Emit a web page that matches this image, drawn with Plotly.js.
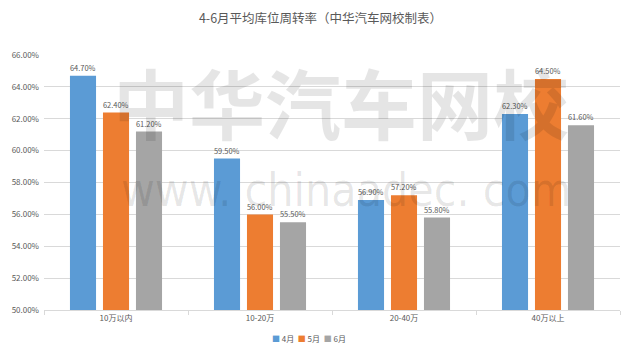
<!DOCTYPE html>
<html>
<head>
<meta charset="utf-8">
<script src="https://cdn.plot.ly/plotly-3.0.1.min.js"></script>
<style>html,body{margin:0;padding:0;background:#fff;}#chart{width:641px;height:357px;}</style>
</head>
<body>
<div id="chart"></div>
<script>
var categories = ['10万以内', '10-20万', '20-40万', '40万以上'];
var seriesNames = ['4月', '5月', '6月'];
var april = [64.7, 59.5, 56.9, 62.3];
var may = [62.4, 56.0, 57.2, 64.5];
var june = [61.2, 55.5, 55.8, 61.6];
var yTicks = [50, 52, 54, 56, 58, 60, 62, 64, 66];
var colors = ['#5B9BD5', '#ED7D31', '#A5A5A5'];

var font = 'Noto Sans CJK SC, Noto Sans, sans-serif';
var allSeries = [april, may, june];
var traces = allSeries.map(function (vals, i) {
  return {
    type: 'bar',
    name: seriesNames[i],
    x: categories,
    y: vals,
    marker: {color: colors[i]},
    text: vals.map(function (v) { return v.toFixed(2) + '%'; }),
    textposition: 'outside',
    cliponaxis: false,
    textfont: {family: font, size: 8, color: '#595959'},
    hoverinfo: 'none',
    showlegend: false
  };
});

var legendText = seriesNames.map(function (n, i) {
  return '<span style="color:' + colors[i] + '">■</span> ' + n;
}).join('  ');

var layout = {
  width: 641, height: 357,
  margin: {l: 44, r: 21, t: 55, b: 47},
  paper_bgcolor: '#ffffff', plot_bgcolor: '#ffffff',
  font: {family: font, color: '#595959', size: 8},
  title: {text: '4-6月平均库位周转率（中华汽车网校制表）', x: 0.5, xanchor: 'center', y: 0.948, yanchor: 'middle',
          font: {family: font, size: 12.5, color: '#595959'}},
  barmode: 'group', bargap: 0.3125, bargroupgap: 0.21,
  showlegend: false,
  xaxis: {type: 'category', showgrid: false, showline: true, linecolor: '#d9d9d9', linewidth: 1,
          ticks: 'outside', tickson: 'boundaries', ticklen: 4, tickcolor: '#d9d9d9',
          tickfont: {family: font, size: 8, color: '#595959'}, fixedrange: true},
  yaxis: {range: [50, 66], tickvals: yTicks,
          ticktext: yTicks.map(function (v) { return v.toFixed(2) + '%'; }),
          showgrid: true, gridcolor: '#d9d9d9', gridwidth: 1, zeroline: false, showline: false,
          ticks: '', tickfont: {family: font, size: 8, color: '#595959'}, ticklabelstandoff: 4, fixedrange: true},
  annotations: [
    {text: '<b>中华汽车网校</b>', xref: 'paper', yref: 'paper', x: 0.515, y: 0.82, xanchor: 'center', yanchor: 'middle',
     showarrow: false, font: {family: 'Noto Sans CJK SC', size: 76, color: 'rgba(0,0,0,0.1)'}},
    {text: 'www. chinaadec. com', xref: 'paper', yref: 'paper', x: 0.525, y: 0.47, xanchor: 'center', yanchor: 'middle',
     showarrow: false, font: {family: 'Liberation Sans Narrow, DejaVu Sans Condensed, sans-serif', size: 46, color: 'rgba(0,0,0,0.1)'}},
    {text: legendText, xref: 'paper', yref: 'paper', x: 0.46, y: -0.113, xanchor: 'center', yanchor: 'middle',
     showarrow: false, font: {family: font, size: 8, color: '#595959'}}
  ]
};
Plotly.newPlot('chart', traces, layout, {staticPlot: true});
</script>
</body>
</html>
